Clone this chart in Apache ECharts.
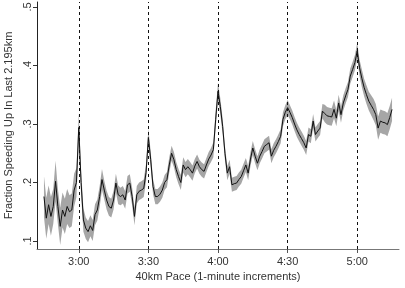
<!DOCTYPE html>
<html>
<head>
<meta charset="utf-8">
<script src="https://cdn.jsdelivr.net/npm/echarts@6/dist/echarts.min.js"></script>
<style>html,body{margin:0;padding:0;background:#fff}#c{width:405px;height:288px}</style>
</head>
<body>
<div id="c"></div>
<script>
// Pace in minutes (165 = 2:45 ... 315 = 5:15), 1-minute steps
const firstMinute = 165;
const fraction = [
  0.176,0.139,0.162,0.142,0.159,0.202,0.159,0.125,0.153,0.142,
  0.159,0.150,0.153,0.187,0.200,0.294,0.200,0.136,0.122,0.116,
  0.126,0.118,0.145,0.153,0.176,0.205,0.187,0.170,0.159,0.156,
  0.170,0.199,0.179,0.176,0.179,0.170,0.196,0.199,0.176,0.142,
  0.179,0.185,0.187,0.190,0.217,0.277,0.239,0.193,0.176,0.176,
  0.180,0.187,0.200,0.205,0.230,0.250,0.239,0.222,0.210,0.200,
  0.230,0.222,0.227,0.222,0.216,0.228,0.236,0.227,0.222,0.219,
  0.230,0.240,0.247,0.256,0.308,0.356,0.330,0.296,0.250,0.216,
  0.227,0.196,0.198,0.199,0.205,0.210,0.220,0.230,0.216,0.240,
  0.259,0.245,0.233,0.245,0.253,0.262,0.265,0.268,0.245,0.255,
  0.262,0.270,0.279,0.308,0.320,0.328,0.320,0.311,0.300,0.290,
  0.282,0.275,0.268,0.259,0.282,0.279,0.305,0.282,0.288,0.293,
  0.322,0.318,0.314,0.313,0.312,0.325,0.310,0.336,0.316,0.336,
  0.348,0.359,0.382,0.393,0.405,0.425,0.396,0.378,0.362,0.350,
  0.339,0.332,0.325,0.316,0.293,0.305,0.303,0.302,0.299,0.311,
  0.325
];
// half-width of the confidence band
const ciHalf = [
  0.035,0.035,0.033,0.033,0.030,0.035,0.030,0.032,0.030,0.030,
  0.030,0.028,0.028,0.028,0.025,0.025,0.022,0.020,0.018,0.018,
  0.018,0.018,0.018,0.018,0.018,0.018,0.016,0.016,0.016,0.016,
  0.016,0.016,0.016,0.015,0.015,0.015,0.015,0.015,0.015,0.015,
  0.015,0.015,0.015,0.015,0.015,0.015,0.014,0.013,0.013,0.013,
  0.013,0.013,0.013,0.013,0.013,0.013,0.013,0.013,0.013,0.013,
  0.013,0.013,0.013,0.013,0.013,0.012,0.012,0.012,0.012,0.012,
  0.012,0.012,0.012,0.013,0.015,0.015,0.014,0.013,0.012,0.012,
  0.012,0.012,0.012,0.012,0.012,0.012,0.012,0.012,0.012,0.012,
  0.012,0.012,0.012,0.012,0.012,0.012,0.012,0.012,0.012,0.012,
  0.012,0.012,0.012,0.012,0.012,0.013,0.012,0.012,0.012,0.012,
  0.012,0.012,0.012,0.012,0.012,0.012,0.012,0.012,0.012,0.012,
  0.012,0.015,0.015,0.015,0.015,0.015,0.014,0.014,0.014,0.013,
  0.013,0.013,0.013,0.013,0.013,0.014,0.014,0.015,0.015,0.016,
  0.016,0.017,0.018,0.018,0.020,0.020,0.020,0.020,0.020,0.020,
  0.020
];
const xTickValues = [180, 210, 240, 270, 300];
const xTickLabels = ['3:00', '3:30', '4:00', '4:30', '5:00'];
const yTickValues = [0.1, 0.2, 0.3, 0.4, 0.5];
const yTickLabels = ['.1', '.2', '.3', '.4', '.5'];
const xTitle = '40km Pace (1-minute increments)';
const yTitle = 'Fraction Speeding Up In Last 2.195km';

const lineData = fraction.map((v, i) => [firstMinute + i, v]);
const bandData = fraction.map((v, i) => [firstMinute + i, v - ciHalf[i], v + ciHalf[i]]);

const font = 'Liberation Sans, Arial, sans-serif';
const chart = echarts.init(document.getElementById('c'), null, {renderer: 'canvas'});
chart.setOption({
  animation: false,
  grid: {left: 37, right: 6, top: 2, bottom: 39, containLabel: false, outerBoundsMode: 'none'},
  xAxis: {
    type: 'value', min: 162, max: 318,
    axisLine: {onZero: false, lineStyle: {color: '#777', width: 1}},
    axisTick: {show: true, length: 4, customValues: xTickValues, lineStyle: {color: '#555'}},
    axisLabel: {customValues: xTickValues, margin: 7, fontSize: 11, color: '#333', fontFamily: font,
      formatter: v => xTickLabels[xTickValues.indexOf(v)] || ''},
    splitLine: {show: false},
    name: xTitle, nameLocation: 'middle', nameGap: 16,
    nameTextStyle: {fontSize: 11, color: '#333', fontFamily: font}
  },
  yAxis: {
    type: 'value', min: 0.0863, max: 0.5086,
    axisLine: {show: true, lineStyle: {color: '#222', width: 1}},
    axisTick: {show: true, length: 4, customValues: yTickValues, lineStyle: {color: '#333'}},
    axisLabel: {customValues: yTickValues, rotate: 90, margin: 4, fontSize: 11, color: '#333', fontFamily: font,
      formatter: v => { const k = yTickValues.findIndex(t => Math.abs(t - v) < 1e-6); return k >= 0 ? yTickLabels[k] : ''; }},
    splitLine: {show: false},
    name: yTitle, nameLocation: 'middle', nameGap: 17,
    nameTextStyle: {fontSize: 11, color: '#333', fontFamily: font}
  },
  series: [
    {type: 'custom', data: [0], silent: true, z: 1,
      renderItem: (params, api) => {
        const up = bandData.map(d => api.coord([d[0], d[2]]));
        const lo = bandData.map(d => api.coord([d[0], d[1]])).reverse();
        return {type: 'polygon', shape: {points: up.concat(lo)}, style: {fill: '#a6a6a6', stroke: null}};
      }},
    {type: 'line', data: lineData, symbol: 'none', lineStyle: {color: '#111', width: 1}, z: 3,
      markLine: {symbol: 'none', silent: true, label: {show: false},
        lineStyle: {color: '#111', type: [3, 3], width: 1},
        data: xTickValues.map(v => ({xAxis: v}))}}
  ]
});
</script>
</body>
</html>
